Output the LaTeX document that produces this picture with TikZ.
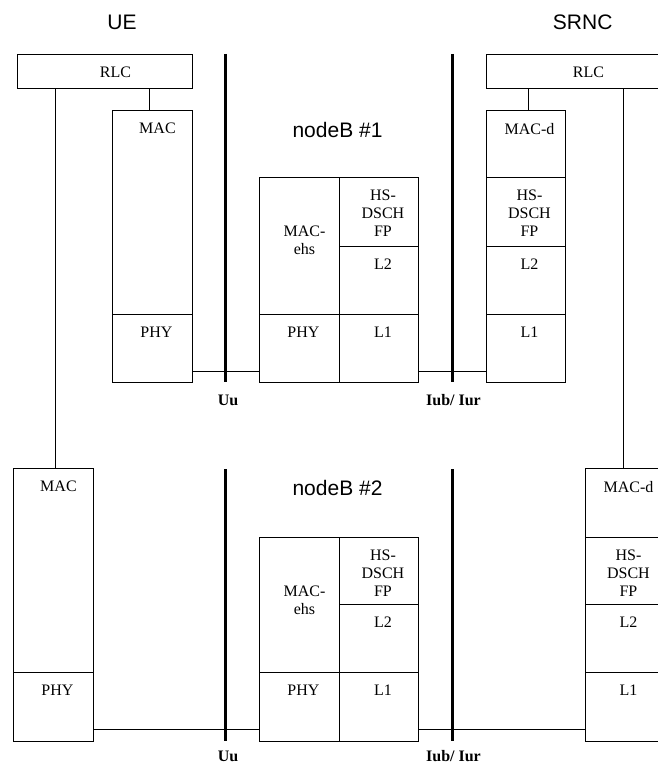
\documentclass[tikz,border=0pt]{standalone}
\usepackage{fontspec}
\setmainfont{Liberation Serif}
\newfontfamily\titlefont{Liberation Sans}
\usetikzlibrary{calc}
\tikzset{
  cell/.style={draw, line width=0.9pt, inner sep=0pt, anchor=north west},
  lbl/.style={inner sep=0pt, anchor=north, align=center, font=\fontsize{16}{18}\selectfont},
  ttl/.style={inner sep=0pt, anchor=base, font=\titlefont\fontsize{21}{25}\selectfont},
  iface/.style={inner sep=0pt, anchor=base, font=\bfseries\fontsize{16}{18}\selectfont},
  wire/.style={line width=0.9pt},
  bar/.style={line width=3pt},
}
\newcommand\cellbox[5]{\node[cell, minimum width={(#4-#2)*1pt}, minimum height={(#5-#3)*1pt}] (#1) at (#2,#3) {};}
\newcommand\celltext[4]{\node[lbl] (#1-t) at ([xshift=#2pt,yshift=-#3pt]#1.north) {#4};}
\begin{document}
\begin{tikzpicture}[x=1pt,y=-1pt]
\useasboundingbox (0,0) rectangle (658,765);
\clip (0,0) rectangle (658,765);

% ---------- titles
\node[ttl] (tUE) at (122,30) {UE};
\node[ttl] (tSR) at (582.7,30) {SRNC};
\node[ttl] (tNB1) at (337.5,137) {nodeB \#1};
\node[ttl] (tNB2) at (337.5,495) {nodeB \#2};

% ---------- upper row
\cellbox{ueRLC}{17}{54}{192}{88}
\cellbox{ueMAC}{112}{110}{192}{314}
\cellbox{uePHY}{112}{314}{192}{382}
\cellbox{nbAmac}{259}{177}{339}{314}
\cellbox{nbAfp}{339}{177}{418}{246}
\cellbox{nbAl2}{339}{246}{418}{314}
\cellbox{nbAphy}{259}{314}{339}{382}
\cellbox{nbAl1}{339}{314}{418}{382}
\cellbox{srRLC}{486}{54}{680}{88}
\cellbox{srMACd}{486}{110}{565}{177}
\cellbox{srFP}{486}{177}{565}{246}
\cellbox{srL2}{486}{246}{565}{314}
\cellbox{srL1}{486}{314}{565}{382}

\celltext{ueRLC}{10.5}{13}{RLC}
\celltext{ueMAC}{5}{13}{MAC}
\celltext{uePHY}{4}{13}{PHY}
\celltext{nbAmac}{5}{49}{MAC-\\ehs}
\celltext{nbAfp}{4}{13}{HS-\\DSCH\\FP}
\celltext{nbAl2}{4}{13}{L2}
\celltext{nbAphy}{4}{13}{PHY}
\celltext{nbAl1}{4}{13}{L1}
\celltext{srRLC}{5}{13}{RLC}
\celltext{srMACd}{3.5}{13}{MAC-d}
\celltext{srFP}{3.5}{13}{HS-\\DSCH\\FP}
\celltext{srL2}{3.5}{13}{L2}
\celltext{srL1}{3.5}{13}{L1}

% ---------- lower row
\cellbox{ueMACb}{13}{468}{93}{672}
\cellbox{uePHYb}{13}{672}{93}{741}
\cellbox{nbBmac}{259}{537}{339}{672}
\cellbox{nbBfp}{339}{537}{418}{604}
\cellbox{nbBl2}{339}{604}{418}{672}
\cellbox{nbBphy}{259}{672}{339}{741}
\cellbox{nbBl1}{339}{672}{418}{741}
\cellbox{srMACdb}{585}{468}{663}{537}
\cellbox{srFPb}{585}{537}{663}{604}
\cellbox{srL2b}{585}{604}{663}{672}
\cellbox{srL1b}{585}{672}{663}{741}

\celltext{ueMACb}{5}{13}{MAC}
\celltext{uePHYb}{4}{13}{PHY}
\celltext{nbBmac}{5}{49}{MAC-\\ehs}
\celltext{nbBfp}{4}{13}{HS-\\DSCH\\FP}
\celltext{nbBl2}{4}{13}{L2}
\celltext{nbBphy}{4}{13}{PHY}
\celltext{nbBl1}{4}{13}{L1}
\celltext{srMACdb}{4}{13}{MAC-d}
\celltext{srFPb}{4}{13}{HS-\\DSCH\\FP}
\celltext{srL2b}{4}{13}{L2}
\celltext{srL1b}{4}{13}{L1}

% ---------- vertical connectors
\coordinate (vA) at (149,0);
\coordinate (vB) at (55,0);
\coordinate (vC) at (528,0);
\coordinate (vD) at (623,0);
\draw[wire] (vA |- ueRLC.south) -- (vA |- ueMAC.north);
\draw[wire] (vB |- ueRLC.south) -- (vB |- ueMACb.north);
\draw[wire] (vC |- srRLC.south) -- (vC |- srMACd.north);
\draw[wire] (vD |- srRLC.south) -- (vD |- srMACdb.north);

% ---------- horizontal links
\coordinate (wA) at (0,371);
\coordinate (wB) at (0,729);
\draw[wire] (uePHY.east |- wA) -- (nbAphy.west |- wA);
\draw[wire] (nbAl1.east |- wA) -- (srL1.west |- wA);
\draw[wire] (uePHYb.east |- wB) -- (nbBphy.west |- wB);
\draw[wire] (nbBl1.east |- wB) -- (srL1b.west |- wB);

% ---------- interface bars
\coordinate (uuAt) at (225,54);  \coordinate (uuAb) at (225,382);
\coordinate (ibAt) at (452,54);  \coordinate (ibAb) at (452,382);
\coordinate (uuBt) at (225,469); \coordinate (uuBb) at (225,741);
\coordinate (ibBt) at (452,469); \coordinate (ibBb) at (452,741);
\draw[bar] (uuAt) -- (uuAb);
\draw[bar] (ibAt) -- (ibAb);
\draw[bar] (uuBt) -- (uuBb);
\draw[bar] (ibBt) -- (ibBb);

\node[iface] (uuA) at (228,405) {Uu};
\node[iface] (ibA) at (453.5,405) {Iub/ Iur};
\node[iface] (uuB) at (228,761) {Uu};
\node[iface] (ibB) at (453.5,761) {Iub/ Iur};
\end{tikzpicture}
\end{document}
